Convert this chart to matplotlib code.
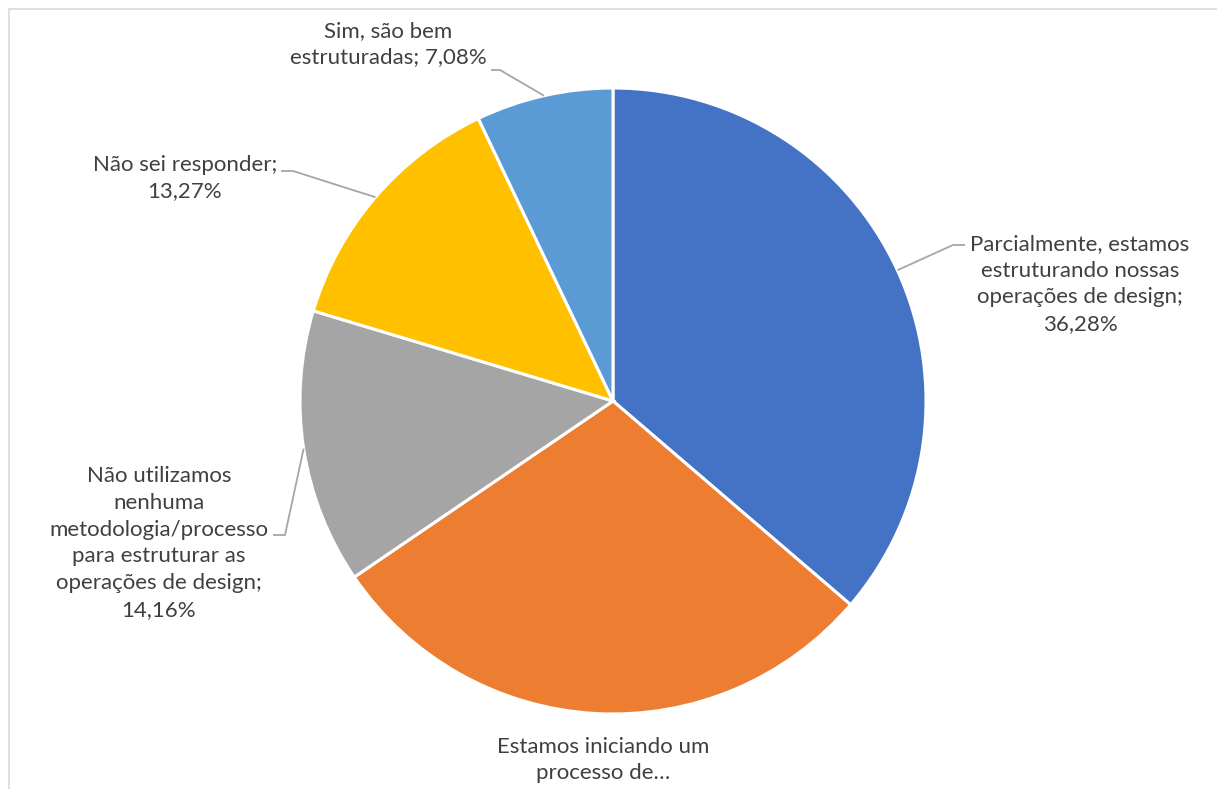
import numpy as np
import matplotlib.pyplot as plt
from matplotlib.patches import Rectangle

# Respostas da pesquisa (%)
categorias = [
    "Parcialmente, estamos\nestruturando nossas\noperações de design",
    "Estamos iniciando um\nprocesso de…",
    "Não utilizamos\nnenhuma\nmetodologia/processo\npara estruturar as\noperações de design",
    "Não sei responder",
    "Sim, são bem\nestruturadas",
]
valores = [36.28, 29.21, 14.16, 13.27, 7.08]
mostrar_pct = [True, False, True, True, True]
cores = ["#4472C4", "#ED7D31", "#A5A5A5", "#FFC000", "#5B9BD5"]

W, H = 1217, 789
fig = plt.figure(figsize=(W / 100, H / 100), dpi=100)
ax = fig.add_axes([0, 0, 1, 1])

cx, cy, r = 613, H - 401, 313
wedges, _ = ax.pie(valores, colors=cores, startangle=90, counterclock=False,
                   center=(cx, cy), radius=r,
                   wedgeprops=dict(edgecolor="white", linewidth=2.2))
ax.set_xlim(0, W)
ax.set_ylim(0, H)
ax.axis("off")

# moldura cinza do gráfico
ax.add_patch(Rectangle((8.5, -20), W + 40, H - 8.5 + 20, fill=False,
                       edgecolor="#D9D9D9", linewidth=1.2, clip_on=False))

# posição dos rótulos: centro do texto e pontos da linha guia (cotovelo, ponta)
rotulos = [
    dict(xy=(1080, 284), guia=[(953, 245), (965, 245)]),
    dict(xy=(603, 760), guia=None),
    dict(xy=(159, 543), guia=[(285, 535), (273, 535)]),
    dict(xy=(185, 178), guia=[(293, 171), (281, 171)]),
    dict(xy=(388, 44), guia=[(500, 70), (491, 70)]),
]

for w, cat, v, mp, rot in zip(wedges, categorias, valores, mostrar_pct, rotulos):
    texto = cat
    if mp:
        texto += "; " if cat.startswith("Sim") else ";\n"
        texto = texto + f"{v:.2f}%".replace(".", ",")
    tx, ty = rot["xy"]
    ax.text(tx, H - ty, texto, ha="center", va="center", fontsize=16,
            family=["Lato", "DejaVu Sans"], color="#404040", linespacing=1.42)
    if rot["guia"]:
        ang = np.deg2rad((w.theta1 + w.theta2) / 2)
        pts = [(cx + r * np.cos(ang), cy + r * np.sin(ang))]
        pts += [(x, H - y) for x, y in rot["guia"]]
        xs, ys = zip(*pts)
        ax.plot(xs, ys, color="#A6A6A6", linewidth=1.3, solid_capstyle="butt")

fig.savefig("out.png", dpi=100)
